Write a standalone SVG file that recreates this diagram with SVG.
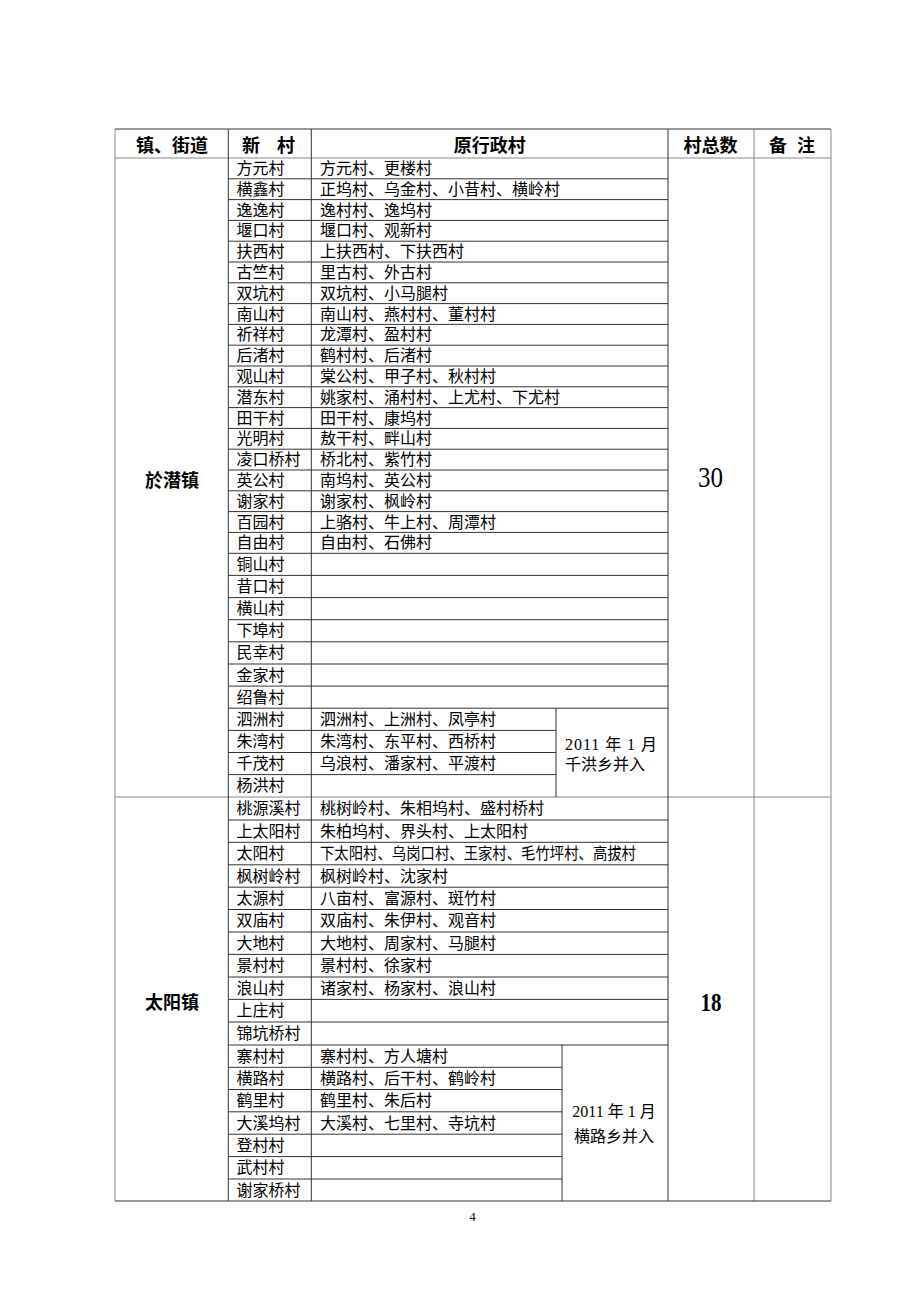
<svg xmlns="http://www.w3.org/2000/svg" width="920" height="1302" viewBox="0 0 920 1302">
<style>
.ln{stroke:#333;stroke-width:1;fill:none}
.lg{stroke:#888;stroke-width:1;fill:none}
.h{font-family:"Noto Sans CJK SC","Liberation Sans",sans-serif;font-weight:700;font-size:18px;fill:#000;dominant-baseline:central;text-anchor:middle}
.t{font-family:"Liberation Serif","Noto Sans CJK SC",serif;font-size:16px;fill:#000;dominant-baseline:central}
.n{font-family:"Liberation Serif",serif;fill:#000}
</style>
<rect width="920" height="1302" fill="#fff"/>
<g id="grid">
<path class="lg" d="M115,129V1201M754,129V1201M831,129V1201M115,158H831M115,797H831"/>
<path class="ln" d="M115,129H831M115,1201H831M228.3,129V1201M311.3,129V1201M668,129V1201M556,708.2V797M562,1045V1201"/>
<path class="ln" d="M228.3,178.8H668M228.3,199.6H668M228.3,220.4H668M228.3,241.2H668M228.3,262H668M228.3,282.8H668M228.3,303.6H668M228.3,324.4H668M228.3,345.2H668M228.3,366H668M228.3,386.8H668M228.3,407.6H668M228.3,428.4H668M228.3,449.2H668M228.3,470H668M228.3,490.8H668M228.3,511.6H668M228.3,532.4H668M228.3,553.3H668M228.3,575.4H668M228.3,597.6H668M228.3,619.7H668M228.3,641.8H668M228.3,664H668M228.3,686.1H668M228.3,708.2H668M228.3,730.4H556M228.3,752.5H556M228.3,774.6H556"/>
<path class="ln" d="M228.3,820H668M228.3,842.3H668M228.3,864.8H668M228.3,887.2H668M228.3,909.5H668M228.3,932H668M228.3,954.4H668M228.3,977H668M228.3,999.4H668M228.3,1022H668M228.3,1045H668M228.3,1067.3H562M228.3,1089.5H562M228.3,1111.8H562M228.3,1134.2H562M228.3,1156.6H562M228.3,1179H562"/>
</g>
<g id="header">
<text class="h" x="172" y="144">镇、街道</text>
<text class="h" x="251 286" y="144">新村</text>
<text class="h" x="489.7" y="144">原行政村</text>
<text class="h" x="710.5" y="144">村总数</text>
<text class="h" x="778 806" y="144">备注</text>
</g>
<g id="section-yuqian">
<text class="h" x="172" y="479">於潜镇</text>
<text class="n" transform="translate(710.5,486.7) scale(1,1.17)" font-size="25" text-anchor="middle">30</text>
<g class="t">
<text x="236.5" y="168.4">方元村</text><text x="320" y="168.4">方元村、更楼村</text>
<text x="236.5" y="189.2">横鑫村</text><text x="320" y="189.2">正坞村、乌金村、小昔村、横岭村</text>
<text x="236.5" y="210">逸逸村</text><text x="320" y="210">逸村村、逸坞村</text>
<text x="236.5" y="230.8">堰口村</text><text x="320" y="230.8">堰口村、观新村</text>
<text x="236.5" y="251.6">扶西村</text><text x="320" y="251.6">上扶西村、下扶西村</text>
<text x="236.5" y="272.4">古竺村</text><text x="320" y="272.4">里古村、外古村</text>
<text x="236.5" y="293.2">双坑村</text><text x="320" y="293.2">双坑村、小马腿村</text>
<text x="236.5" y="314">南山村</text><text x="320" y="314">南山村、燕村村、董村村</text>
<text x="236.5" y="334.8">祈祥村</text><text x="320" y="334.8">龙潭村、盈村村</text>
<text x="236.5" y="355.6">后渚村</text><text x="320" y="355.6">鹤村村、后渚村</text>
<text x="236.5" y="376.4">观山村</text><text x="320" y="376.4">棠公村、甲子村、秋村村</text>
<text x="236.5" y="397.2">潜东村</text><text x="320" y="397.2">姚家村、涌村村、上尤村、下尤村</text>
<text x="236.5" y="418">田干村</text><text x="320" y="418">田干村、康坞村</text>
<text x="236.5" y="438.8">光明村</text><text x="320" y="438.8">敖干村、畔山村</text>
<text x="236.5" y="459.6">凌口桥村</text><text x="320" y="459.6">桥北村、紫竹村</text>
<text x="236.5" y="480.4">英公村</text><text x="320" y="480.4">南坞村、英公村</text>
<text x="236.5" y="501.2">谢家村</text><text x="320" y="501.2">谢家村、枫岭村</text>
<text x="236.5" y="522">百园村</text><text x="320" y="522">上骆村、牛上村、周潭村</text>
<text x="236.5" y="542.9">自由村</text><text x="320" y="542.9">自由村、石佛村</text>
<text x="236.5" y="564.4">铜山村</text>
<text x="236.5" y="586.5">昔口村</text>
<text x="236.5" y="608.7">横山村</text>
<text x="236.5" y="630.8">下埠村</text>
<text x="236.5" y="652.9">民幸村</text>
<text x="236.5" y="675.1">金家村</text>
<text x="236.5" y="697.2">绍鲁村</text>
<text x="236.5" y="719.3">泗洲村</text><text x="320" y="719.3">泗洲村、上洲村、凤亭村</text>
<text x="236.5" y="741.5">朱湾村</text><text x="320" y="741.5">朱湾村、东平村、西桥村</text>
<text x="236.5" y="763.6">千茂村</text><text x="320" y="763.6">乌浪村、潘家村、平渡村</text>
<text x="236.5" y="785.7">杨洪村</text>
<text x="565" y="744" textLength="92" lengthAdjust="spacing">2011 年 1 月</text>
<text x="565" y="764">千洪乡并入</text>
</g>
</g>
<g id="section-taiyang">
<text class="h" x="172" y="1001">太阳镇</text>
<text class="n" transform="translate(711,1011) scale(1,1.22)" font-size="21" font-weight="700" text-anchor="middle">18</text>
<g class="t">
<text x="236.5" y="808.5">桃源溪村</text><text x="320" y="808.5">桃树岭村、朱相坞村、盛村桥村</text>
<text x="236.5" y="831.2">上太阳村</text><text x="320" y="831.2">朱柏坞村、界头村、上太阳村</text>
<text x="236.5" y="853.6">太阳村</text><text x="320" y="853.6" textLength="316" lengthAdjust="spacingAndGlyphs">下太阳村、乌岗口村、王家村、毛竹坪村、高拔村</text>
<text x="236.5" y="876">枫树岭村</text><text x="320" y="876">枫树岭村、沈家村</text>
<text x="236.5" y="898.4">太源村</text><text x="320" y="898.4">八亩村、富源村、斑竹村</text>
<text x="236.5" y="920.8">双庙村</text><text x="320" y="920.8">双庙村、朱伊村、观音村</text>
<text x="236.5" y="943.2">大地村</text><text x="320" y="943.2">大地村、周家村、马腿村</text>
<text x="236.5" y="965.7">景村村</text><text x="320" y="965.7">景村村、徐家村</text>
<text x="236.5" y="988.2">浪山村</text><text x="320" y="988.2">诸家村、杨家村、浪山村</text>
<text x="236.5" y="1010.7">上庄村</text>
<text x="236.5" y="1033.5">锦坑桥村</text>
<text x="236.5" y="1056.2">寨村村</text><text x="320" y="1056.2">寨村村、方人塘村</text>
<text x="236.5" y="1078.4">横路村</text><text x="320" y="1078.4">横路村、后干村、鹤岭村</text>
<text x="236.5" y="1100.7">鹤里村</text><text x="320" y="1100.7">鹤里村、朱后村</text>
<text x="236.5" y="1123">大溪坞村</text><text x="320" y="1123">大溪村、七里村、寺坑村</text>
<text x="236.5" y="1145.4">登村村</text>
<text x="236.5" y="1167.8">武村村</text>
<text x="236.5" y="1190">谢家桥村</text>
<text x="614" y="1111.7" text-anchor="middle">2011 年 1 月</text>
<text x="614" y="1136" text-anchor="middle">横路乡并入</text>
</g>
</g>
<text class="n" x="472.5" y="1220.5" font-size="13" text-anchor="middle">4</text>
</svg>
